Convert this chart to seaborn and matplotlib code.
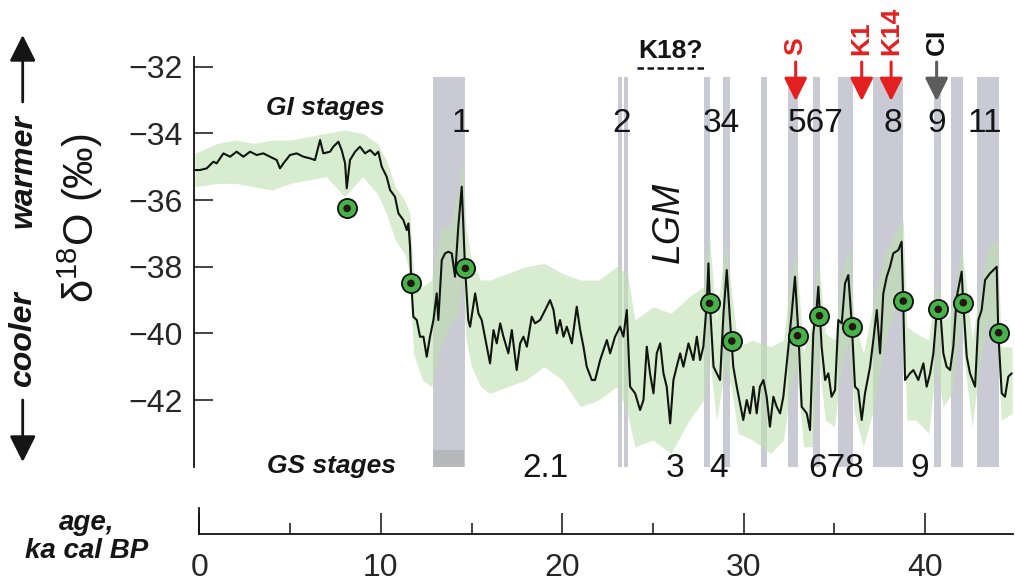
import matplotlib
matplotlib.use("Agg")
import matplotlib.pyplot as plt
import seaborn as sns
import pandas as pd

# ---------------- data ----------------
age = [-0.24, 0.03, 0.40, 0.77, 0.95, 1.32, 1.69, 2.05, 2.42, 2.79, 3.16, 3.52, 3.89, 4.26, 4.44,
       4.63, 4.99, 5.36, 5.73, 6.10, 6.37, 6.65, 6.83, 7.20, 7.38, 7.66, 7.84, 8.03, 8.12, 8.30,
       8.58, 8.85, 9.13, 9.41, 9.68, 9.86, 10.05, 10.32, 10.51, 10.78, 10.97, 11.24, 11.43, 11.52,
       11.61, 11.68, 11.79, 11.98, 12.16, 12.35, 12.53, 12.71, 12.90, 13.08, 13.17, 13.36, 13.54,
       13.72, 13.91, 14.09, 14.27, 14.46, 14.64, 14.82, 14.92, 15.20, 15.38, 15.56, 15.84, 16.02,
       16.21, 16.39, 16.58, 16.76, 17.03, 17.22, 17.49, 17.68, 17.86, 18.05, 18.32, 18.50, 18.78,
       19.06, 19.33, 19.52, 19.70, 19.88, 20.07, 20.25, 20.53, 20.80, 20.99, 21.17, 21.35, 21.63,
       21.81, 22.09, 22.46, 22.64, 22.91, 23.19, 23.37, 23.56, 23.74, 24.02, 24.29, 24.48, 24.66,
       24.84, 25.03, 25.21, 25.40, 25.58, 25.76, 25.95, 26.13, 26.31, 26.50, 26.68, 26.96, 27.23,
       27.42, 27.60, 27.78, 27.97, 28.06, 28.15, 28.34, 28.52, 28.70, 28.89, 29.07, 29.25, 29.43,
       29.62, 29.98, 30.17, 30.35, 30.54, 30.72, 30.90, 31.09, 31.27, 31.45, 31.64, 31.82, 32.01,
       32.19, 32.47, 32.65, 32.83, 33.02, 33.20, 33.48, 33.66, 33.84, 34.03, 34.12, 34.30, 34.49,
       34.67, 34.85, 35.04, 35.22, 35.41, 35.59, 35.77, 35.96, 36.14, 36.32, 36.51, 36.69, 36.97,
       37.15, 37.34, 37.52, 37.70, 37.89, 38.07, 38.25, 38.53, 38.71, 38.80, 38.90, 39.17, 39.36,
       39.63, 39.91, 40.09, 40.28, 40.46, 40.64, 40.83, 41.01, 41.19, 41.38, 41.56, 41.75, 42.02,
       42.11, 42.30, 42.48, 42.76, 42.94, 43.12, 43.31, 43.58, 43.77, 43.95, 44.04, 44.23, 44.41,
       44.59, 44.78]
d18o = [-35.10, -35.10, -35.05, -34.85, -34.90, -34.60, -34.70, -34.55, -34.70, -34.55, -34.65,
        -34.60, -34.70, -34.80, -35.05, -34.90, -34.65, -34.60, -34.70, -34.75, -34.80, -34.20,
        -34.60, -34.55, -34.40, -34.25, -34.50, -34.90, -35.65, -34.80, -34.55, -34.40, -34.60,
        -34.50, -34.65, -34.55, -35.00, -35.30, -35.70, -35.90, -36.40, -36.60, -36.90, -36.70,
        -37.40, -38.50, -39.50, -39.60, -40.10, -40.10, -40.70, -40.10, -39.60, -38.80, -39.60,
        -37.80, -37.60, -37.55, -37.60, -38.30, -36.80, -35.60, -38.00, -39.60, -39.80, -38.80,
        -39.40, -39.60, -40.40, -40.90, -39.90, -40.30, -39.70, -40.10, -40.60, -39.90, -41.10,
        -40.30, -40.10, -40.40, -39.50, -39.70, -39.60, -39.30, -39.00, -39.30, -40.00, -39.60,
        -40.10, -39.80, -40.30, -39.20, -39.90, -40.40, -41.00, -41.40, -41.40, -40.80, -40.20,
        -40.60, -40.10, -39.80, -40.10, -39.30, -41.60, -41.80, -42.30, -42.00, -40.40, -41.20,
        -41.80, -40.60, -40.30, -41.20, -41.60, -42.70, -41.40, -41.00, -40.60, -41.00, -40.30,
        -40.80, -40.10, -40.80, -40.40, -39.10, -37.90, -39.20, -41.00, -41.20, -41.40, -39.40,
        -38.10, -39.60, -41.00, -41.60, -42.60, -42.00, -42.40, -41.60, -42.40, -41.60, -41.40,
        -41.90, -42.80, -41.90, -42.20, -42.40, -41.90, -40.40, -39.40, -38.30, -40.00, -42.20,
        -42.40, -42.90, -40.00, -39.20, -38.60, -40.40, -41.40, -41.20, -41.90, -41.70, -39.60,
        -39.70, -38.50, -38.25, -39.70, -41.60, -41.70, -42.60, -41.80, -41.00, -40.20, -39.30,
        -40.60, -38.80, -38.30, -38.00, -37.60, -37.50, -37.25, -39.10, -41.40, -41.20, -41.10,
        -41.40, -40.90, -41.60, -41.20, -40.60, -39.40, -39.20, -40.60, -41.00, -41.10, -40.40,
        -38.90, -38.15, -39.10, -40.70, -41.20, -41.60, -39.60, -39.30, -38.40, -38.20, -38.10,
        -38.00, -40.00, -41.80, -41.90, -41.30, -41.20]

green_age = [-0.25, 1, 2, 3, 4, 5, 6, 7, 8, 9, 9.8, 10.3, 10.8, 11.3, 11.6, 11.8, 12.3, 12.8,
             13.3, 13.8, 14.3, 14.5, 14.7, 15.0, 15.5, 16, 17, 18, 19, 20, 21, 22, 23, 23.6, 24,
             25, 26, 27, 27.8, 28.1, 28.5, 29.0, 29.3, 29.7, 30.5, 31.5, 32.2, 32.6, 32.9, 33.3,
             33.8, 34.1, 34.5, 35.0, 35.4, 35.8, 36.1, 36.6, 37.2, 37.8, 38.5, 38.8, 39.0, 39.5,
             40.2, 40.6, 41.0, 41.5, 42.0, 42.2, 42.6, 43.0, 43.5, 44.0, 44.2, 44.8]
green_hi = [-34.6, -34.3, -34.2, -34.3, -34.2, -34.2, -34.1, -34.0, -33.9, -34.0, -34.3, -34.8,
            -35.6, -36.0, -36.4, -38.2, -38.6, -38.4, -36.8, -36.8, -35.6, -34.8, -36.8, -37.8,
            -38.4, -38.4, -38.2, -38.0, -37.9, -38.2, -38.4, -38.4, -38.0, -38.2, -39.6, -39.2,
            -39.4, -38.9, -38.6, -37.0, -39.6, -37.2, -38.6, -40.4, -40.2, -40.4, -40.2, -38.2,
            -37.6, -40.6, -39.6, -37.6, -40.0, -40.2, -38.2, -37.4, -39.6, -40.6, -39.0, -37.6,
            -36.8, -36.6, -39.8, -40.0, -40.2, -38.4, -39.6, -39.4, -37.4, -38.2, -40.2, -38.8,
            -37.4, -37.2, -40.4, -40.4]
green_lo = [-35.6, -35.5, -35.5, -35.6, -35.7, -35.5, -35.4, -35.3, -35.9, -35.3, -35.8, -36.4,
            -37.2, -37.6, -38.2, -40.6, -41.4, -41.6, -40.4, -39.8, -39.4, -38.4, -40.2, -41.0,
            -41.6, -41.8, -41.6, -41.4, -41.0, -41.4, -42.2, -42.0, -41.6, -42.4, -43.4, -43.2,
            -43.6, -42.6, -42.0, -40.6, -42.6, -41.0, -41.6, -43.0, -43.2, -43.6, -43.2, -41.6,
            -41.0, -43.4, -43.4, -40.6, -42.6, -42.8, -41.0, -40.2, -42.4, -43.4, -42.2, -40.2,
            -39.0, -39.6, -42.6, -42.6, -43.0, -41.0, -42.2, -41.8, -39.6, -41.0, -42.8, -41.0,
            -39.6, -40.4, -42.6, -42.4]

marker_age = [8.14, 11.66, 14.66, 28.12, 29.35, 32.97, 34.18, 36.0, 38.8, 40.73, 42.11, 44.06]
marker_val = [-36.25, -38.5, -38.05, -39.1, -40.23, -40.07, -39.47, -39.8, -39.03, -39.28, -39.08, -39.98]

gi_start = [12.85, 23.07, 23.41, 27.80, 28.88, 30.96, 32.43, 33.81, 35.19, 37.12, 40.50, 41.43, 42.85]
gi_end = [14.62, 23.29, 23.61, 28.15, 29.25, 31.27, 32.98, 34.21, 36.01, 38.80, 40.87, 42.11, 44.10]

gi_labels = ["1", "2", "34", "567", "8", "9", "11"]
gi_label_age = [14.42, 23.30, 28.75, 33.94, 38.20, 40.64, 43.30]
gs_labels = ["2.1", "3", "4", "678", "9"]
gs_label_age = [19.10, 26.20, 28.60, 35.10, 39.70]
tephra_labels = ["S", "K1", "K14", "CI"]
tephra_age = [32.87, 36.51, 38.13, 40.64]
tephra_colors = ["#e3201f", "#e3201f", "#e3201f", "#5c5c5c"]
tephra_text_colors = ["#e3201f", "#e3201f", "#e3201f", "#111111"]
yticks = [-42, -40, -38, -36, -34, -32]
xticks_major = [0, 10, 20, 30, 40]
xticks_minor = [5, 15, 25, 35]

# ---------------- style ----------------
sns.set_style("white")
plt.rcParams["font.family"] = ["Liberation Sans", "DejaVu Sans"]
plt.rcParams["mathtext.fontset"] = "custom"
plt.rcParams["mathtext.rm"] = "Liberation Sans"
plt.rcParams["mathtext.it"] = "Liberation Sans:italic"
plt.rcParams["axes.unicode_minus"] = True

W, H = 1015, 583
fig = plt.figure(figsize=(W / 100, H / 100), dpi=100)
fig.patch.set_facecolor("white")

XLIM = (-0.3, 44.85)
ax = fig.add_axes([194 / W, (H - 466.7) / H, 819 / W, 410 / H])
ax.set_xlim(*XLIM)
ax.set_ylim(-44, -31.7)
ax.set_facecolor("none")

band_top = -32.3
band_col = "#c9cad3"
for s, e in zip(gi_start, gi_end):
    ax.fill_between([s, e], -44, band_top, color=band_col, lw=0, zorder=1)
# darker foot of GI-1 band
ax.fill_between([gi_start[0], gi_end[0] - 0.05], -44, -43.5, color="#b7b8bb", lw=0, zorder=1.1)

# raw data envelope (light green)
ax.fill_between(green_age, green_lo, green_hi, color="#bfe0b0", lw=0, alpha=0.6, zorder=2)

df = pd.DataFrame({"age": age, "d18o": d18o})
sns.lineplot(data=df, x="age", y="d18o", ax=ax, color="#101510", lw=1.5,
             estimator=None, sort=False, zorder=3)

mk = pd.DataFrame({"age": marker_age, "val": marker_val})
sns.scatterplot(data=mk, x="age", y="val", ax=ax, s=190, color="#45b34a",
                edgecolor="#101010", linewidth=1.3, zorder=4)
sns.scatterplot(data=mk, x="age", y="val", ax=ax, s=30, color="#2a1515",
                edgecolor="none", linewidth=0, zorder=5)

ax.set_xlabel("")
ax.set_ylabel("")
ax.set_xticks([])
ax.set_yticks(yticks)
ax.set_yticklabels([f"{v}".replace("-", "\u2212") for v in yticks])
for sp in ["top", "right", "bottom"]:
    ax.spines[sp].set_visible(False)
ax.spines["left"].set_color("#111111")
ax.spines["left"].set_linewidth(1.3)
ax.tick_params(axis="y", direction="in", length=14, width=1.1, color="#111111",
               labelsize=23, pad=8, left=True)

# stage labels
for lab, a in zip(gi_labels, gi_label_age):
    ax.text(a, -33.95, lab, fontsize=24, ha="center", va="baseline", color="#151515",
            clip_on=False, zorder=6)
for lab, a in zip(gs_labels, gs_label_age):
    ax.text(a, -44.3, lab, fontsize=24, ha="center", va="baseline", color="#151515",
            clip_on=False, zorder=6)

ax.text(6.92, -33.45, "GI stages", fontsize=19, weight="bold", style="italic",
        ha="center", va="baseline", color="#151515")
ax.text(7.3, -44.2, "GS stages", fontsize=19, weight="bold", style="italic",
        ha="center", va="baseline", color="#151515", clip_on=False)
ax.text(25.85, -36.66, "LGM", fontsize=27, style="italic", rotation=90,
        ha="center", va="center", color="#151515")

# K18? with dashed underline
ax.text(25.95, -31.75, "K18?", fontsize=19, weight="bold", ha="center", va="baseline",
        color="#151515", clip_on=False)
ax.plot([24.12, 27.87], [-32.04, -32.04], color="#151515", lw=1.8,
        ls=(0, (2.6, 1.4)), clip_on=False, zorder=6)

# tephra arrows
for lab, a, c, tc in zip(tephra_labels, tephra_age, tephra_colors, tephra_text_colors):
    ax.annotate("", xy=(a, -33.03), xytext=(a, -31.86), xycoords="data",
                arrowprops=dict(arrowstyle="-|>,head_length=0.7,head_width=0.35",
                                color=c, lw=2.2, mutation_scale=20,
                                shrinkA=0, shrinkB=0),
                annotation_clip=False, zorder=7)
    ax.text(a, -31.66, lab, fontsize=19, weight="bold", color=tc, rotation=90,
            ha="center", va="bottom", clip_on=False)

# ---------------- bottom age axis ----------------
bx = fig.add_axes([194 / W, (H - 534) / H, 819 / W, 26 / H])
bx.set_xlim(*XLIM)
bx.set_ylim(0, 1)
bx.set_facecolor("none")
for sp in ["top", "right"]:
    bx.spines[sp].set_visible(False)
bx.spines["left"].set_position(("data", 0))
bx.spines["bottom"].set_bounds(0, XLIM[1])
for sp in ["left", "bottom"]:
    bx.spines[sp].set_color("#111111")
    bx.spines[sp].set_linewidth(1.3)
bx.set_yticks([])
bx.set_xticks(xticks_major)
bx.set_xticklabels([str(v) for v in xticks_major])
bx.set_xticks(xticks_minor, minor=True)
bx.tick_params(axis="x", which="major", direction="in", length=15, width=1.1,
               color="#111111", labelsize=23, pad=14, bottom=True)
bx.tick_params(axis="x", which="minor", direction="in", length=8, width=1.1,
               color="#111111", bottom=True)

# ---------------- outer labels ----------------
def fp(px, py):
    return px / W, 1 - py / H

fig.text(*fp(80, 218), "δ$^{18}$O (‰)", rotation=90, fontsize=30, ha="center",
         va="center", color="#151515")
fig.text(*fp(23, 171), "warmer", rotation=90, fontsize=23, weight="bold", style="italic",
         ha="center", va="center", color="#151515")
fig.text(*fp(23, 339), "cooler", rotation=90, fontsize=23, weight="bold", style="italic",
         ha="center", va="center", color="#151515")
arr = dict(arrowstyle="-|>,head_length=0.8,head_width=0.4", color="#151515", lw=2.0,
           mutation_scale=20, shrinkA=0, shrinkB=0)
ax.annotate("", xy=(22.7, H - 35), xytext=(22.7, H - 102), xycoords="figure pixels",
            textcoords="figure pixels", arrowprops=arr, annotation_clip=False)
ax.annotate("", xy=(22.7, H - 462), xytext=(22.7, H - 400), xycoords="figure pixels",
            textcoords="figure pixels", arrowprops=arr, annotation_clip=False)
fig.text(*fp(86.5, 537), "age,\nka cal BP", fontsize=20, weight="bold", style="italic",
         ha="center", va="center", multialignment="center", linespacing=1.15,
         color="#151515")

fig.savefig("out.png", dpi=100, facecolor="white")
